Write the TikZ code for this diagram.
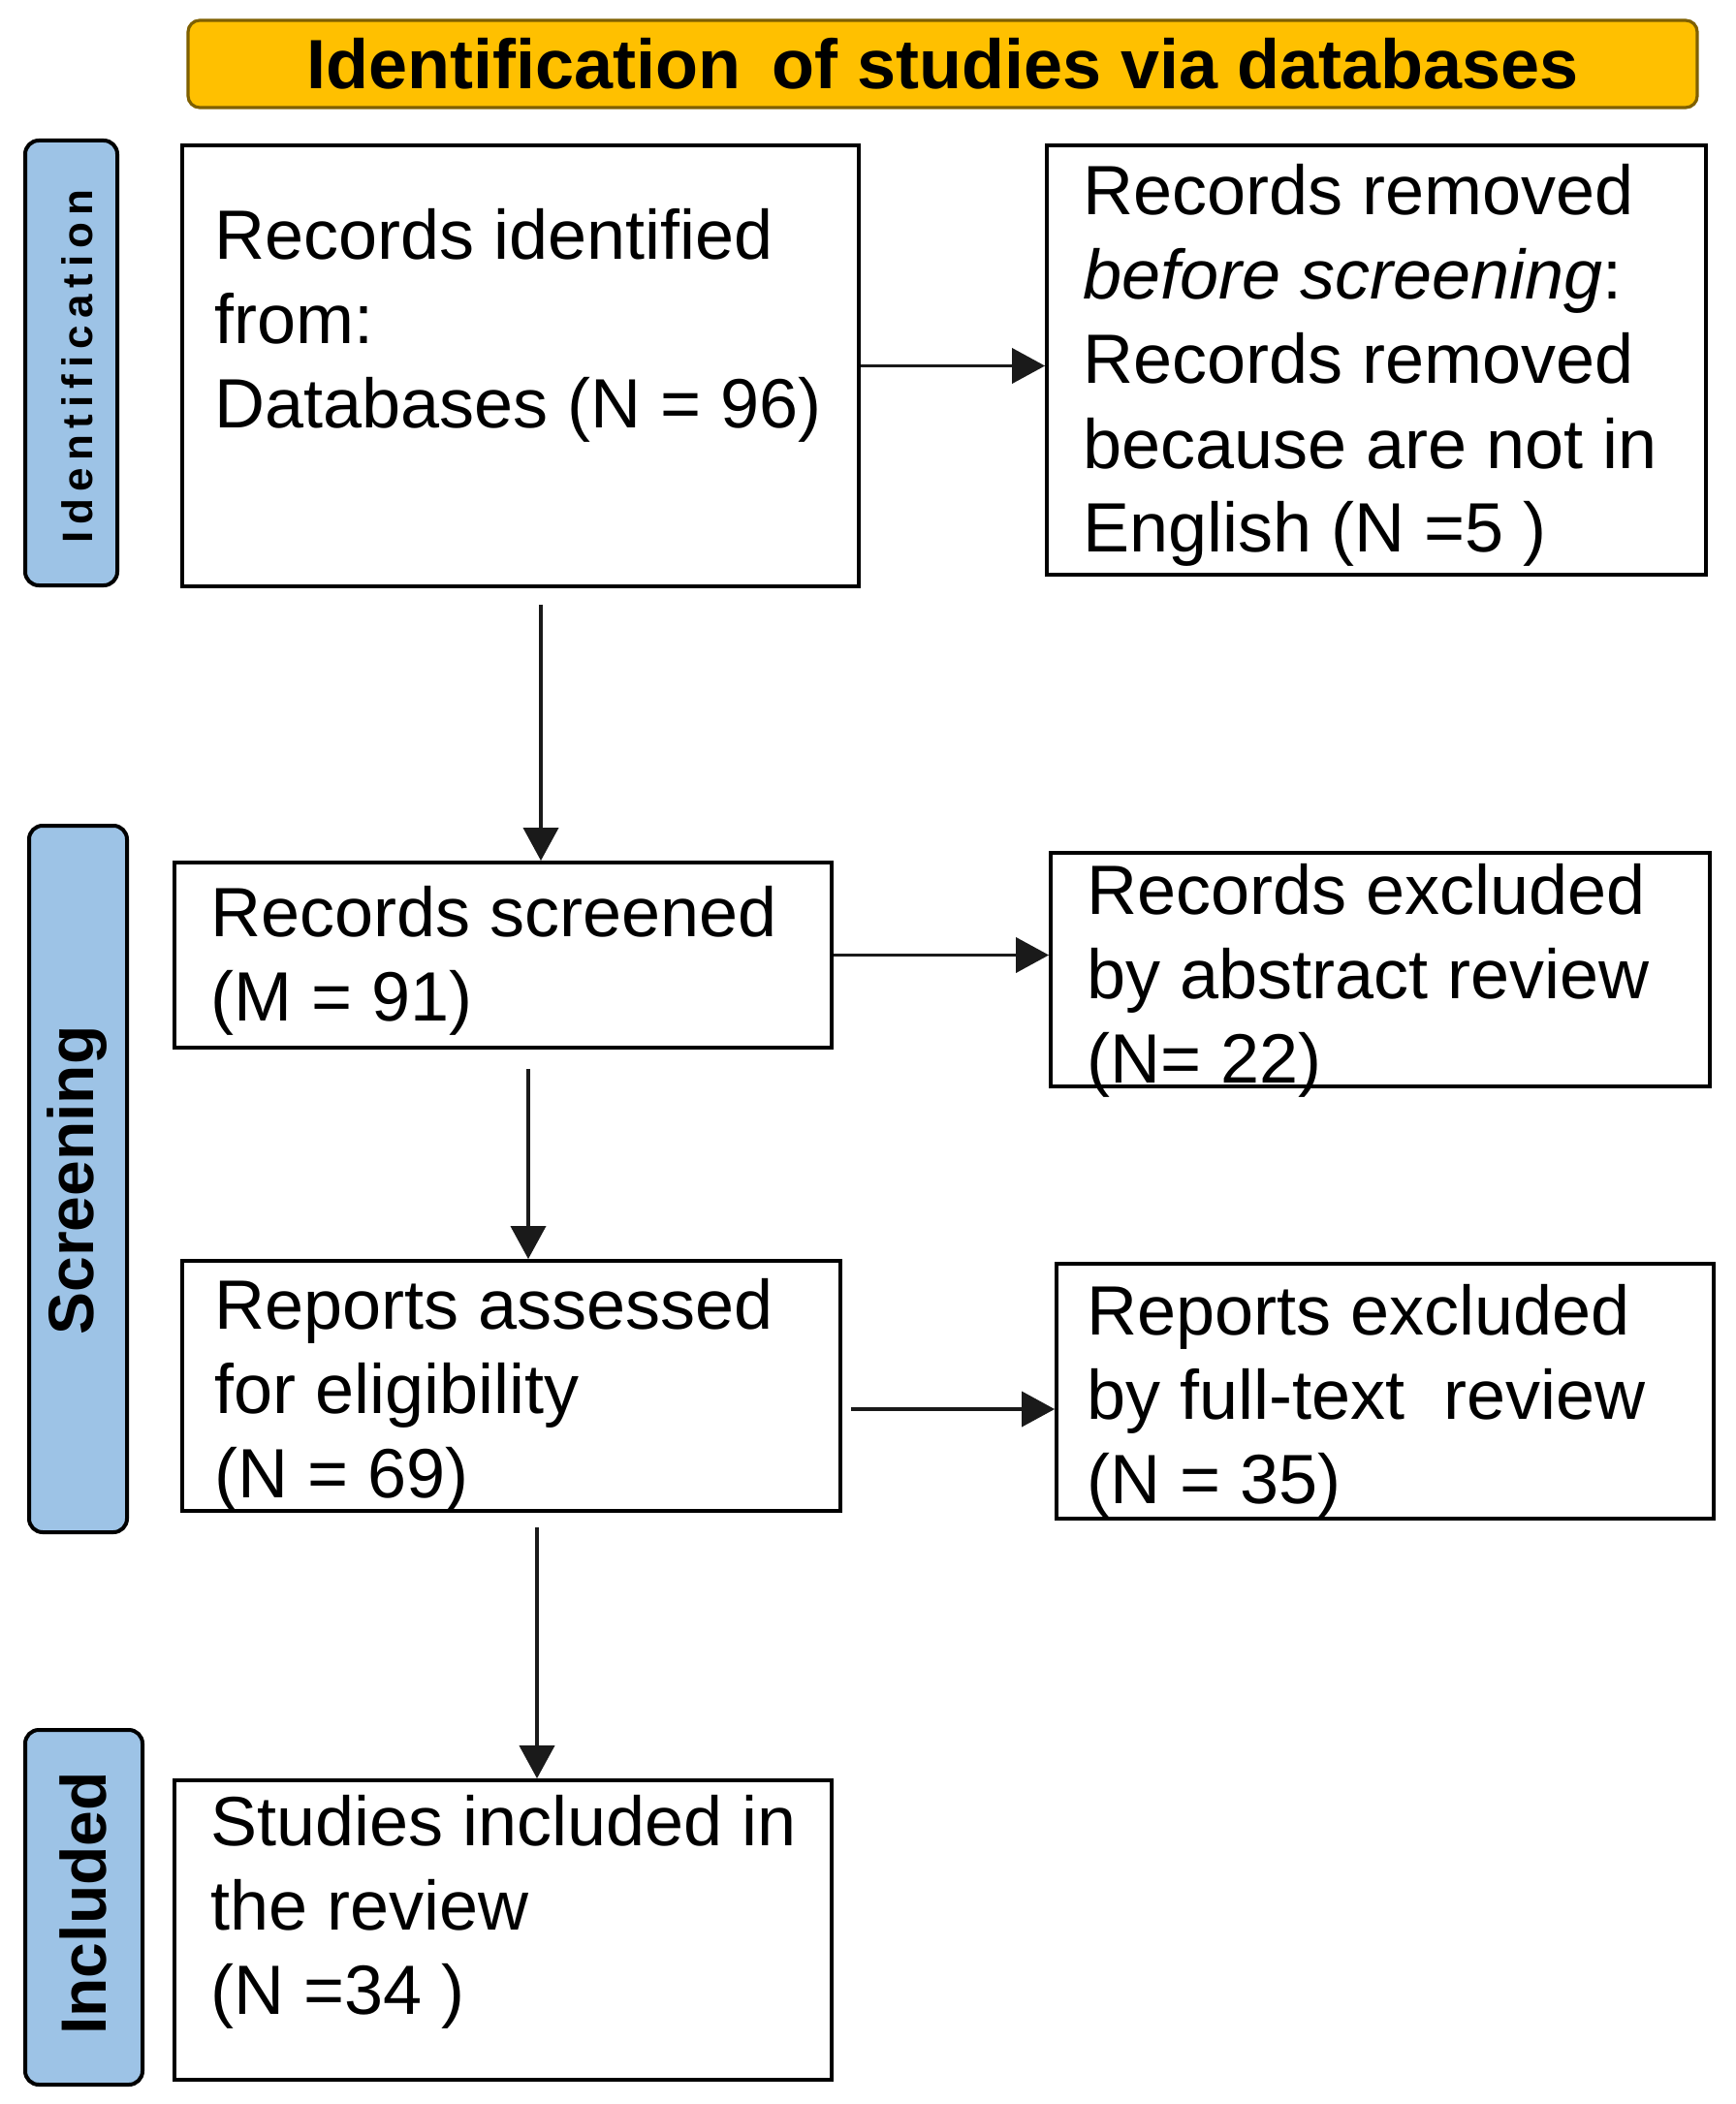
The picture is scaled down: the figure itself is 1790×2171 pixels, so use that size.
\documentclass[tikz,border=0pt]{standalone}
\usepackage{fontspec}
\setmainfont{Liberation Sans}
\newfontfamily\spacedfont[LetterSpace=16]{Liberation Sans}
\usetikzlibrary{arrows.meta,calc}
\definecolor{hdrfill}{HTML}{FFC000}
\definecolor{hdrline}{HTML}{7F6000}
\definecolor{labfill}{HTML}{9DC3E6}
\definecolor{arrcol}{HTML}{1A1A1A}
\begin{document}
\begin{tikzpicture}[x=0.5pt,y=-0.5pt,
  hdrbox/.style={draw=hdrline, fill=hdrfill, line width=1.6pt, rounded corners=6pt, inner sep=0pt,
     font=\bfseries\fontsize{36pt}{40pt}\selectfont},
  labbox/.style={draw=black, fill=labfill, line width=2pt, rounded corners=7pt, inner sep=0pt},
  labtext/.style={rotate=90, inner sep=0pt, font=\bfseries\fontsize{33pt}{36pt}\selectfont},
  flowbox/.style={draw=black, line width=1.9pt, inner sep=0pt},
  boxtext/.style={anchor=base west, align=left, inner sep=0pt, font=\fontsize{36pt}{43.5pt}\selectfont},
  arr/.style={draw=arrcol, line width=1.9pt, -{Triangle[length=17pt,width=18pt]}}
]
\useasboundingbox (0,0) rectangle (1790,2171);
\fill[white] (0,0) rectangle (1790,2171);

% header
\node[hdrbox, minimum width=778.5pt, minimum height=45pt] (hdr) at (972.5,66) {Identification\hspace{0.45em}of studies via databases};

% side labels
\node[labbox, minimum width=47.5pt, minimum height=229.5pt] (lab1) at (73.5,374.5) {};
\node[labtext, font=\spacedfont\bfseries\fontsize{22pt}{26pt}\selectfont] (lt1) at (80,378) {Identification};
\node[labbox, minimum width=50.5pt, minimum height=364.5pt] (lab2) at (80.5,1216.5) {};
\node[labtext] (lt2) at (80,1218) {Screening};
\node[labbox, minimum width=60.5pt, minimum height=183pt] (lab3) at (86.5,1968) {};
\node[labtext] (lt3) at (86,1964) {Included};

% boxes
\node[flowbox, minimum width=349pt, minimum height=227.5pt] (b1) at (537,377.5) {};
\node[flowbox, minimum width=340pt, minimum height=221.5pt] (b2) at (1420,371.5) {};
\node[flowbox, minimum width=339pt, minimum height=95.5pt] (b3) at (519,985.5) {};
\node[flowbox, minimum width=340pt, minimum height=120.5pt] (b4) at (1424,1000.5) {};
\node[flowbox, minimum width=339.5pt, minimum height=129pt] (b5) at (527.5,1430) {};
\node[flowbox, minimum width=339pt, minimum height=131.5pt] (b6) at (1429,1435.5) {};
\node[flowbox, minimum width=339pt, minimum height=154.5pt] (b7) at (519,1991.5) {};

% texts (anchored at the baseline of their last line)
\node[boxtext] (t1) at (221,442) {Records identified\\from:\\Databases (N = 96)};
\node[boxtext] (t2) at (1117,570) {Records removed\\\textit{before screening}:\\Records removed\\because are not in\\English (N =5 )};
\node[boxtext] (t3) at (217,1053) {Records screened\\(M = 91)};
\node[boxtext] (t4) at (1121,1117) {Records excluded\\by abstract review\\(N= 22)};
\node[boxtext] (t5) at (221,1545) {Reports assessed\\for eligibility\\(N = 69)};
\node[boxtext] (t6) at (1121,1551) {Reports excluded\\by full-text\ \ review\\(N = 35)};
\node[boxtext] (t7) at (217,2078) {Studies included in\\the review\\(N =34 )};

% connectors
\draw[arr] (b1.east) -- (b1.east -| b2.west);
\draw[arr] (b3.east) -- (b3.east -| b4.west);
\coordinate (h3s) at ([xshift=4.5pt,yshift=-12pt]b5.east);
\draw[arr] (h3s) -- (h3s -| b6.west);

\coordinate (v1s) at ([xshift=10.5pt,yshift=-8.5pt]b1.south);
\draw[arr] (v1s) -- (v1s |- b3.north);
\coordinate (v2s) at ([xshift=13pt,yshift=-10pt]b3.south);
\draw[arr] (v2s) -- (v2s |- b5.north);
\coordinate (v3s) at ([xshift=13.25pt,yshift=-7.5pt]b5.south);
\draw[arr] (v3s) -- (v3s |- b7.north);
\end{tikzpicture}
\end{document}
